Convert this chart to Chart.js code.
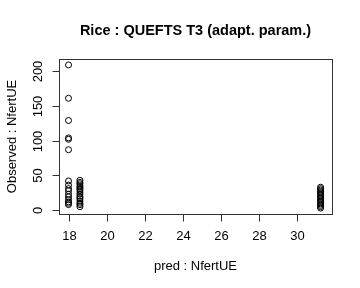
<!DOCTYPE html>
<html>
<head>
<meta charset="utf-8">
<script src="https://cdn.jsdelivr.net/npm/chart.js@4/dist/chart.umd.min.js"></script>
<style>
  html, body { margin: 0; padding: 0; background: #fff; }
  #wrap { width: 360px; height: 288px; }
</style>
</head>
<body>
<div id="wrap"><canvas id="chart" width="360" height="288"></canvas></div>
<script>
// ---- data ----
const colA = 18.0;   // predicted value, first column
const colB = 18.6;   // second column
const colC = 31.25;  // third column

const obsA = [209, 161, 129, 104, 102, 87, 42, 36, 31, 28, 23, 19, 15, 12, 10, 8];
const obsB = [43, 40, 38, 35, 33, 31, 29, 26, 23, 20, 18, 16, 13, 10, 8, 5];
const obsC = [33, 31, 29, 27, 25, 23, 21, 19, 17, 15, 13, 11, 9, 7, 5, 3];

const xTicks = [18, 20, 22, 24, 26, 28, 30];
const yTicks = [0, 50, 100, 150, 200];

const titleText = 'Rice : QUEFTS T3 (adapt. param.)';
const xTitle = 'pred : NfertUE';
const yTitle = 'Observed : NfertUE';

// ---- build points ----
const points = [];
obsA.forEach(v => points.push({ x: colA, y: v }));
obsB.forEach(v => points.push({ x: colB, y: v }));
obsC.forEach(v => points.push({ x: colC, y: v }));

const FONT = '"Liberation Sans", Arial, sans-serif';

// R-style box, ticks and labels
const rAxes = {
    id: 'rAxes',
    afterDraw(chart) {
        const ctx = chart.ctx;
        const a = chart.chartArea;
        const xs = chart.scales.x;
        const ys = chart.scales.y;

        ctx.save();
        ctx.strokeStyle = '#333';
        ctx.lineWidth = 1;
        ctx.strokeRect(Math.round(a.left) + 0.5, Math.round(a.top) + 0.5,
                       Math.round(a.right - a.left), Math.round(a.bottom - a.top));

        ctx.fillStyle = '#000';
        ctx.font = '13px ' + FONT;

        // x ticks
        ctx.textAlign = 'center';
        ctx.textBaseline = 'middle';
        xTicks.forEach(t => {
            const px = Math.round(xs.getPixelForValue(t)) + 0.5;
            ctx.beginPath();
            ctx.moveTo(px, Math.round(a.bottom) + 0.5);
            ctx.lineTo(px, Math.round(a.bottom) + 7.5);
            ctx.stroke();
            ctx.fillText(String(t), px, 236);
        });

        // y ticks (labels rotated like R)
        yTicks.forEach(t => {
            const py = Math.round(ys.getPixelForValue(t)) + 0.5;
            ctx.beginPath();
            ctx.moveTo(Math.round(a.left) + 0.5, py);
            ctx.lineTo(Math.round(a.left) - 6.5, py);
            ctx.stroke();
            ctx.save();
            ctx.translate(38, py);
            ctx.rotate(-Math.PI / 2);
            ctx.fillText(String(t), 0, 0);
            ctx.restore();
        });

        // axis titles
        ctx.fillText(xTitle, (a.left + a.right) / 2, 266);
        ctx.save();
        ctx.translate(12, (a.top + a.bottom) / 2);
        ctx.rotate(-Math.PI / 2);
        ctx.fillText(yTitle, 0, 0);
        ctx.restore();

        // main title
        ctx.font = 'bold 14.5px ' + FONT;
        ctx.fillText(titleText, (a.left + a.right) / 2, 31);
        ctx.restore();
    }
};

new Chart(document.getElementById('chart'), {
    type: 'scatter',
    data: {
        datasets: [{
            data: points,
            pointStyle: 'circle',
            pointRadius: 3,
            pointHoverRadius: 3,
            borderColor: '#000',
            borderWidth: 1,
            backgroundColor: 'rgba(0,0,0,0)'
        }]
    },
    options: {
        responsive: false,
        animation: false,
        layout: { padding: { left: 59, right: 28, top: 59, bottom: 74 } },
        scales: {
            x: { type: 'linear', display: false, min: 17.5, max: 31.85 },
            y: { type: 'linear', display: false, min: -5.5, max: 217.5 }
        },
        plugins: {
            legend: { display: false },
            tooltip: { enabled: false }
        }
    },
    plugins: [rAxes]
});
</script>
</body>
</html>
